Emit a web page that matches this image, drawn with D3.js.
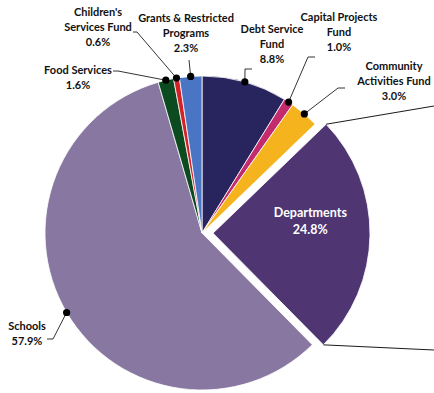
<!DOCTYPE html>
<html>
<head>
<meta charset="utf-8">
<script src="https://cdn.jsdelivr.net/npm/d3@7/dist/d3.min.js"></script>
<style>
  html, body { margin: 0; padding: 0; background: #fff; }
  svg { display: block; }
  text { font-family: Lato, "Open Sans", sans-serif; font-weight: 700; }
</style>
</head>
<body>
<svg id="chart" width="434" height="393"></svg>
<script>
// Expenditure share by fund, clockwise from 12 o'clock
const categories = [
  "Debt Service Fund",
  "Capital Projects Fund",
  "Community Activities Fund",
  "Departments",
  "Schools",
  "Food Services",
  "Children's Services Fund",
  "Grants & Restricted Programs"
];
const shares = [8.8, 1.0, 3.0, 24.8, 57.9, 1.6, 0.6, 2.3];
const colors = ["#28255e", "#c42a6e", "#f5b41e", "#4f3572", "#8877a1", "#0c4a1f", "#d42128", "#4a74c4"];
// label text lines for each slice
const labelLines = [
  ["Debt Service", "Fund"],
  ["Capital Projects", "Fund"],
  ["Community", "Activities Fund"],
  ["Departments"],
  ["Schools"],
  ["Food Services"],
  ["Children's", "Services Fund"],
  ["Grants & Restricted", "Programs"]
];
const exploded = "Departments";

const svg = d3.select("#chart");
const cx = 202, cy = 233, R = 157, explodeDist = 11;

const pie = d3.pie().sort(null).value(d => d.v).startAngle(0).endAngle(2 * Math.PI);
const data = categories.map((c, i) => ({ name: c, v: shares[i], color: colors[i], lines: labelLines[i] }));
const arcs = pie(data);
const arc = d3.arc().innerRadius(0).outerRadius(R);

const g = svg.append("g").attr("transform", `translate(${cx},${cy})`);

function offset(d) {
  if (d.data.name !== exploded) return [0, 0];
  const a = (d.startAngle + d.endAngle) / 2;
  return [explodeDist * Math.sin(a), -explodeDist * Math.cos(a)];
}
function polar(d, ang, r) {
  const o = offset(d);
  return [o[0] + r * Math.sin(ang), o[1] - r * Math.cos(ang)];
}

g.selectAll("path.slice")
  .data(arcs)
  .join("path")
  .attr("class", "slice")
  .attr("transform", d => `translate(${offset(d)})`)
  .attr("d", arc)
  .attr("fill", d => d.data.color)
  .attr("stroke", "#fff")
  .attr("stroke-width", 0.8);

// connector lines from the exploded slice out to the right edge
const depArc = arcs.find(d => d.data.name === exploded);
const edgeTop = polar(depArc, depArc.startAngle, R);
const edgeBot = polar(depArc, depArc.endAngle, R);
g.append("line").attr("x1", edgeTop[0]).attr("y1", edgeTop[1]).attr("x2", 434 - cx).attr("y2", 106 - cy)
  .attr("stroke", "#000").attr("stroke-width", 0.9);
g.append("line").attr("x1", edgeBot[0]).attr("y1", edgeBot[1]).attr("x2", 434 - cx).attr("y2", 350 - cy)
  .attr("stroke", "#000").attr("stroke-width", 0.9);

// label placement: centre x, first baseline y, leader elbow points (page coords)
const layout = {
  "Debt Service Fund":            { x: 272, y: 33, elbow: [[245, 69], [252, 69]] },
  "Capital Projects Fund":        { x: 339, y: 21, elbow: [[308, 57], [315, 57]] },
  "Community Activities Fund":    { x: 394, y: 70, elbow: [[338, 88], [345, 88]] },
  "Schools":                      { x: 27,  y: 330, elbow: [[53, 339], [47, 339]] },
  "Food Services":                { x: 78,  y: 74, elbow: [[118, 71], [113, 71]] },
  "Children's Services Fund":     { x: 98,  y: 16, elbow: [[137, 32], [133, 32]] },
  "Grants & Restricted Programs": { x: 186, y: 22, elbow: [[189, 60]] }
};

const lineH = 15;
arcs.forEach(d => {
  const name = d.data.name;
  const pct = d.data.v.toFixed(1) + "%";
  if (name === exploded) {
    const o = offset(d);
    const mid = (d.startAngle + d.endAngle) / 2;
    const lx = o[0] + 0.62 * R * Math.sin(mid);
    const ly = o[1] - 0.62 * R * Math.cos(mid);
    const t = g.append("text").attr("text-anchor", "middle").attr("fill", "#fff")
      .attr("font-size", 12.5);
    t.append("tspan").attr("x", lx).attr("y", ly - 17).text(d.data.lines[0]);
    t.append("tspan").attr("x", lx).attr("dy", 17).text(pct);
    return;
  }
  const L = layout[name];
  const mid = (d.startAngle + d.endAngle) / 2;
  const dot = polar(d, mid, R);
  const pts = [dot].concat(L.elbow.map(p => [p[0] - cx, p[1] - cy]));
  g.append("path")
    .attr("d", d3.line()(pts))
    .attr("fill", "none").attr("stroke", "#000").attr("stroke-width", 0.8);
  g.append("circle").attr("cx", dot[0]).attr("cy", dot[1]).attr("r", 3.6).attr("fill", "#000");

  const t = svg.append("text").attr("text-anchor", "middle").attr("fill", "#111").attr("font-size", 11);
  const lines = d.data.lines.concat([pct]);
  lines.forEach((s, i) => {
    t.append("tspan").attr("x", L.x).attr("y", L.y + i * lineH).text(s);
  });
});
</script>
</body>
</html>
